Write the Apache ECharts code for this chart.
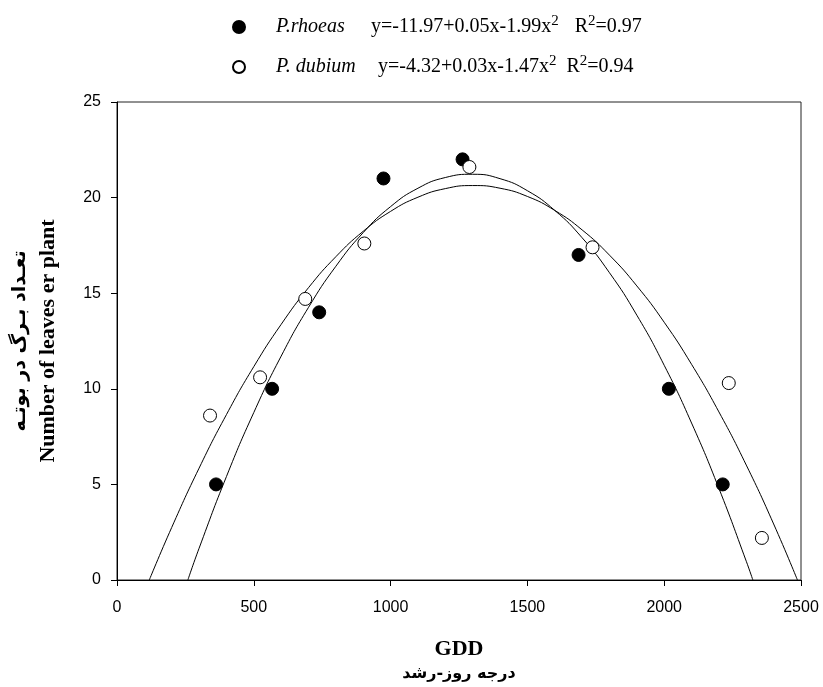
<!DOCTYPE html>
<html>
<head>
<meta charset="utf-8">
<script src="https://cdn.jsdelivr.net/npm/echarts@6/dist/echarts.min.js"></script>
<style>
html, body { margin: 0; padding: 0; background: #fff; }
#main { width: 823px; height: 687px; }
</style>
</head>
<body>
<div id="main"></div>
<script>
// observed points
var gddRhoeas = [362, 567, 739, 974, 1263, 1687, 2017, 2214];
var leavesRhoeas = [5, 10, 14, 21, 22, 17, 10, 5];
var gddDubium = [340, 523, 688, 904, 1288, 1738, 2236, 2357];
var leavesDubium = [8.6, 10.6, 14.7, 17.6, 21.6, 17.4, 10.3, 2.2];

// fitted curves
var fitGddRhoeas = [259, 300, 400, 500, 600, 700, 800, 900, 1000, 1100, 1200, 1300,
    1400, 1500, 1600, 1700, 1800, 1900, 2000, 2100, 2200, 2300, 2324];
var fitLeavesRhoeas = [0, 1.66, 5.41, 8.76, 11.71, 14.26, 16.41, 18.17, 19.53, 20.49, 21.05, 21.22,
    20.99, 20.36, 19.33, 17.90, 16.07, 13.85, 11.23, 8.21, 4.79, 0.98, 0];
var fitGddDubium = [118, 200, 300, 400, 500, 600, 700, 800, 900, 1000, 1100, 1200, 1300,
    1400, 1500, 1600, 1700, 1800, 1900, 2000, 2100, 2200, 2300, 2400, 2487];
var fitLeavesDubium = [0, 2.75, 5.85, 8.65, 11.16, 13.37, 15.29, 16.91, 18.24, 19.28, 20.02, 20.47, 20.63,
    20.49, 20.06, 19.33, 18.31, 16.99, 15.38, 13.48, 11.28, 8.79, 6.01, 2.93, 0];

var xTicks = [0, 500, 1000, 1500, 2000, 2500];
var yTicks = [0, 5, 10, 15, 20, 25];

function pairs(xs, ys) {
    return xs.map(function (x, i) { return [x, ys[i]]; });
}

var serif = 'Liberation Serif';
var sans = 'Liberation Sans';

var myChart = echarts.init(document.getElementById('main'));
myChart.setOption({
    animation: false,
    backgroundColor: '#fff',
    grid: {
        left: 117, right: 22, top: 102, bottom: 105,
        show: true, borderColor: '#222', borderWidth: 1, backgroundColor: 'transparent'
    },
    legend: {
        orient: 'vertical',
        left: 227,
        top: 9,
        itemWidth: 12,
        itemHeight: 12,
        itemGap: 14,
        selectedMode: false,
        data: ['P.rhoeas', 'P. dubium'],
        formatter: function (name) {
            if (name === 'P.rhoeas') {
                return '{nm1|P.rhoeas}{eq|y=-11.97+0.05x-1.99x}{sup|2}{r1|R}{sup|2}{eq|=0.97}';
            }
            return '{nm2|P. dubium}{eq|y=-4.32+0.03x-1.47x}{sup|2}{r2|R}{sup|2}{eq|=0.94}';
        },
        textStyle: {
            fontFamily: serif, fontSize: 20, color: '#000', lineHeight: 26,
            rich: {
                nm1: { fontFamily: serif, fontSize: 20, fontStyle: 'italic', width: 95, padding: [0, 0, 0, 26], lineHeight: 26 },
                nm2: { fontFamily: serif, fontSize: 20, fontStyle: 'italic', width: 102, padding: [0, 0, 0, 26], lineHeight: 26 },
                eq: { fontFamily: serif, fontSize: 20, lineHeight: 26 },
                sup: { fontFamily: serif, fontSize: 15, lineHeight: 14, verticalAlign: 'top' },
                r1: { fontFamily: serif, fontSize: 20, padding: [0, 0, 0, 16], lineHeight: 26 },
                r2: { fontFamily: serif, fontSize: 20, padding: [0, 0, 0, 10], lineHeight: 26 }
            }
        }
    },
    xAxis: {
        type: 'value',
        min: xTicks[0],
        max: xTicks[xTicks.length - 1],
        interval: 500,
        name: '{en|GDD}\n{fa|درجه روز-رشد}',
        nameLocation: 'middle',
        nameGap: 56,
        nameTextStyle: {
            rich: {
                en: { fontFamily: serif, fontSize: 22, fontWeight: 'bold', color: '#000', lineHeight: 26 },
                fa: { fontFamily: 'DejaVu Sans', fontSize: 16, fontWeight: 'bold', color: '#000', lineHeight: 24 }
            }
        },
        splitLine: { show: false },
        axisLine: { lineStyle: { color: '#000', width: 1 } },
        axisTick: { inside: false, length: 6, lineStyle: { color: '#000' } },
        axisLabel: {
            margin: 20, fontFamily: sans, fontSize: 16, color: '#000',
            formatter: function (v) { return String(v); }
        }
    },
    yAxis: {
        type: 'value',
        min: yTicks[0],
        max: yTicks[yTicks.length - 1],
        interval: 5,
        name: '{fa|تعـداد بـرگ در بوتـه}\n{en|Number of leaves er plant}',
        nameLocation: 'middle',
        nameRotate: 90,
        nameGap: 56,
        nameTextStyle: {
            rich: {
                fa: { fontFamily: 'DejaVu Sans', fontSize: 19, fontWeight: 'bold', color: '#000', lineHeight: 30, padding: [0, 0, 0, 0] },
                en: { fontFamily: serif, fontSize: 22, fontWeight: 'bold', color: '#000', lineHeight: 26 }
            }
        },
        splitLine: { show: false },
        axisLine: { show: true, lineStyle: { color: '#000', width: 1 } },
        axisTick: { show: true, inside: false, length: 6, lineStyle: { color: '#000' } },
        axisLabel: { margin: 16, fontFamily: sans, fontSize: 16, color: '#000' }
    },
    series: [
        {
            name: 'fit rhoeas',
            type: 'line',
            data: pairs(fitGddRhoeas, fitLeavesRhoeas),
            smooth: true,
            showSymbol: false,
            silent: true,
            lineStyle: { color: '#000', width: 1 }
        },
        {
            name: 'fit dubium',
            type: 'line',
            data: pairs(fitGddDubium, fitLeavesDubium),
            smooth: true,
            showSymbol: false,
            silent: true,
            lineStyle: { color: '#000', width: 1 }
        },
        {
            name: 'P.rhoeas',
            type: 'scatter',
            data: pairs(gddRhoeas, leavesRhoeas),
            symbol: 'circle',
            symbolSize: 13,
            itemStyle: { color: '#000', borderColor: '#000', borderWidth: 1, opacity: 1 },
            z: 3
        },
        {
            name: 'P. dubium',
            type: 'scatter',
            data: pairs(gddDubium, leavesDubium),
            symbol: 'circle',
            symbolSize: 13,
            itemStyle: { color: '#fff', borderColor: '#000', borderWidth: 1, opacity: 1 },
            z: 4
        }
    ]
});
</script>
</body>
</html>
